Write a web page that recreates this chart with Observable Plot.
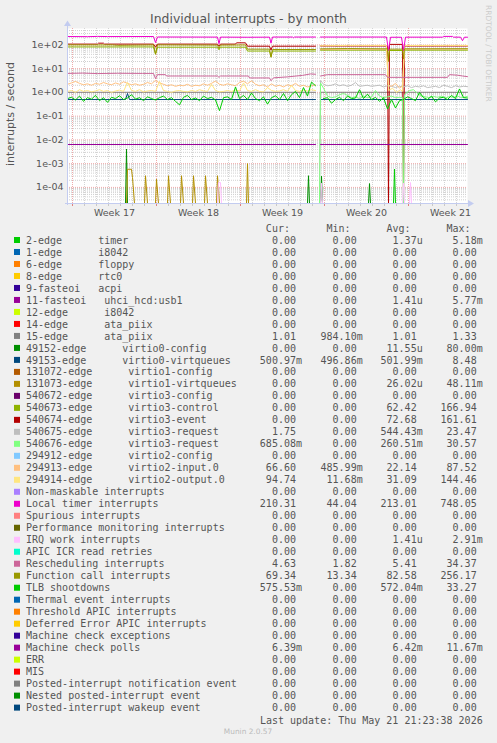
<!DOCTYPE html>
<html><head><meta charset="utf-8">
<script src="https://cdn.jsdelivr.net/npm/d3@7"></script>
<script src="https://cdn.jsdelivr.net/npm/@observablehq/plot@0.6"></script>
<style>
html,body{margin:0;padding:0;background:#F0F0F0;}
#root{position:relative;width:497px;height:743px;background:#F0F0F0;overflow:hidden;}
#root svg{position:absolute;left:0;top:0;}
</style></head>
<body><div id="root"></div>
<script>
// ---------- chart texts ----------
const TITLE = "Individual interrupts - by month";
const Y_LABEL = "interrupts / second";
const SIDE_TEXT = "RRDTOOL / TOBI OETIKER";
const LAST_UPDATE = "Last update: Thu May 21 21:23:38 2026";
const FOOTER = "Munin 2.0.57";

// ---------- axes ----------
const START = Date.UTC(2026, 3, 18, 14, 0);   // left edge of the graph
const HOUR = 3600e3;
const SPAN_H = 800;                             // hours shown
const Y_DOMAIN = [2.1e-5, 490];
const Y_TICKS = [1e-4, 1e-3, 1e-2, 1e-1, 1, 10, 100];
const Y_TICK_LABELS = ["1e-04", "1e-03", "1e-02", "1e-01", "1e+00", "1e+01", "1e+02"];
const WEEK_MIDS = ["2026-04-22T12:00Z", "2026-04-29T12:00Z", "2026-05-06T12:00Z", "2026-05-13T12:00Z", "2026-05-20T12:00Z"];
const WEEK_LABELS = ["Week 17", "Week 18", "Week 19", "Week 20", "Week 21"];

// ---------- legend ----------
const LABELS = [
  "2-edge      timer", "1-edge      i8042", "6-edge      floppy", "8-edge      rtc0", "9-fasteoi   acpi",
  "11-fasteoi   uhci_hcd:usb1", "12-edge      i8042", "14-edge      ata_piix", "15-edge      ata_piix",
  "49152-edge      virtio0-config", "49153-edge      virtio0-virtqueues", "131072-edge      virtio1-config",
  "131073-edge      virtio1-virtqueues", "540672-edge      virtio3-config", "540673-edge      virtio3-control",
  "540674-edge      virtio3-event", "540675-edge      virtio3-request", "540676-edge      virtio3-request",
  "294912-edge      virtio2-config", "294913-edge      virtio2-input.0", "294914-edge      virtio2-output.0",
  "Non-maskable interrupts", "Local timer interrupts", "Spurious interrupts", "Performance monitoring interrupts",
  "IRQ work interrupts", "APIC ICR read retries", "Rescheduling interrupts", "Function call interrupts",
  "TLB shootdowns", "Thermal event interrupts", "Threshold APIC interrupts", "Deferred Error APIC interrupts",
  "Machine check exceptions", "Machine check polls", "ERR", "MIS", "Posted-interrupt notification event",
  "Nested posted-interrupt event", "Posted-interrupt wakeup event"
];
const COLORS = [
  "#00CC00", "#0066B3", "#FF8000", "#FFCC00", "#330099", "#990099", "#CCFF00", "#FF0000", "#808080",
  "#008F00", "#00487D", "#B35A00", "#B38F00", "#6B006B", "#8FB300", "#B30000", "#BEBEBE", "#80FF80",
  "#80C9FF", "#FFC080", "#FFE680", "#AA80FF", "#EE00CC", "#FF8080", "#666600", "#FFBFFF", "#00FFCC",
  "#CC6699", "#999900", "#00CC00", "#0066B3", "#FF8000", "#FFCC00", "#330099", "#990099", "#CCFF00",
  "#FF0000", "#808080", "#008F00", "#00487D"
];
const CUR = ["0.00","0.00","0.00","0.00","0.00","0.00","0.00","0.00","1.01","0.00","500.97m","0.00","0.00","0.00","0.00","0.00","1.75","685.08m","0.00","66.60","94.74","0.00","210.31","0.00","0.00","0.00","0.00","4.63","69.34","575.53m","0.00","0.00","0.00","0.00","6.39m","0.00","0.00","0.00","0.00","0.00"];
const MIN = ["0.00","0.00","0.00","0.00","0.00","0.00","0.00","0.00","984.10m","0.00","496.86m","0.00","0.00","0.00","0.00","0.00","0.00","0.00","0.00","485.99m","11.68m","0.00","44.04","0.00","0.00","0.00","0.00","1.82","13.34","0.00","0.00","0.00","0.00","0.00","0.00","0.00","0.00","0.00","0.00","0.00"];
const AVG = ["1.37u","0.00","0.00","0.00","0.00","1.41u","0.00","0.00","1.01","11.55u","501.99m","0.00","26.02u","0.00","62.42","72.68","544.43m","260.51m","0.00","22.14","31.09","0.00","213.01","0.00","0.00","1.41u","0.00","5.41","82.58","572.04m","0.00","0.00","0.00","0.00","6.42m","0.00","0.00","0.00","0.00","0.00"];
const MAX = ["5.18m","0.00","0.00","0.00","0.00","5.77m","0.00","0.00","1.33","80.00m","8.48","0.00","48.11m","0.00","166.94","161.61","23.47","30.57","0.00","87.52","144.46","0.00","748.05","0.00","0.00","2.91m","0.00","34.37","256.17","33.27","0.00","0.00","0.00","0.00","11.67m","0.00","0.00","0.00","0.00","0.00"];

// ---------- series values: [hour since START, value]; null = no data ----------
const timerPts = [[652,0],[654,5.9e-4],[656,0]];
const ata15Pts = [[0,1.01],[496,1.01],[502,null],[506,1.01],[800,1.01]];
const virtio0ConfigPts = [[116,0],[118,4.1e-3],[120,0],[480,0],[482,3.1e-4],[484,0],[506,0],[508,3.0e-4],[510,0],[602,0],[604,1.45e-4],[606,0]];
const virtio0QueuesPts = [[0,0.5],[116,0.5],[120,0.9],[124,0.5],[496,0.5],[502,null],[506,0.5],[800,0.5]];
const virtio1QueuesPts = [[118,0],[120,5.8e-4],[128,5.8e-4],[130,2.6e-4],[134,0],[154,0],[156,3.1e-4],[160,0],[176,0],[178,2.2e-4],[182,0],[200,0],[202,3.1e-4],[206,0],[226,0],[228,3.1e-4],[232,0],[250,0],[252,3.1e-4],[256,0],[274,0],[276,3.1e-4],[280,0],[298,0],[300,3.1e-4],[304,0],[358,0],[360,1.0e-3],[362,0]];
const virtio3ControlPts = [[0,82],[172,82],[176,40],[180,80],[300,80],[303,62],[306,80],[356,80],[360,55],[404,55],[407,32],[410,55],[496,55],[502,null],[506,60],[640,60],[642,20],[644,58],[670,58],[672,22],[674,60],[800,60]];
const virtio3EventPts = [[0,108],[60,108],[62,118],[72,118],[74,108],[172,108],[176,80],[180,108],[300,108],[303,90],[306,108],[336,108],[338,122],[356,122],[360,88],[404,88],[407,60],[410,88],[496,88],[502,null],[506,90],[640,90],[642,0],[644,105],[670,105],[672,0],[674,90],[800,90]];
const virtio3Req675Pts = [[0,0],[496,0],[502,null],[504,0],[506,3.2],[512,2.2],[520,1.9],[528,2.0],[536,2.3],[544,1.9],[552,2.1],[560,1.8],[568,2.0],[576,2.6],[584,1.8],[592,1.9],[600,2.0],[608,1.8],[616,1.9],[624,2.0],[632,1.7],[640,1.9],[648,1.8],[656,1.6],[664,1.8],[672,1.7],[680,1.9],[688,1.6],[696,1.8],[704,1.7],[712,1.9],[720,1.6],[728,1.7],[736,1.8],[744,1.6],[752,2.0],[760,1.8],[768,1.6],[776,1.9],[784,1.7],[792,1.8],[800,1.75]];
const virtio3Req676Pts = [[0,0],[496,0],[502,null],[504,0],[506,2.5],[512,1.5],[520,0.7],[528,0.6],[536,0.65],[544,0.8],[552,0.9],[560,0.75],[568,0.6],[576,0.65],[584,0.55],[592,0.7],[600,0.6],[608,0.65],[616,1.2],[624,0.7],[632,0.6],[640,0.65],[648,0.7],[656,0.6],[664,0.62],[670,0.6],[672,0],[674,0.8],[684,1.2],[692,1.3],[700,0.9],[708,0.7],[716,0.65],[724,0.6],[732,0.68],[740,0.62],[748,0.7],[756,0.6],[764,0.66],[772,0.62],[780,0.7],[788,0.6],[796,0.65],[800,0.685]];
// virtio2 input / output: 8-hourly samples before the gap, then points after it
const virtio2InPre = [2.2,2.5,2.9,2.4,2.1,2.3,2.0,2.4,2.2,2.6, 2.3,2.1,2.5,2.2,2.8,2.4,2.1,2.3,2.0,2.2, 2.6,2.3,3.2,2.5,2.2,1.9,2.1,1.8,2.0,1.9, 2.2,1.8,2.0,1.9,2.3,2.0,2.4,3.0,2.2,2.0, 2.3,2.1,1.9,2.6,3.0,2.3,3.1,2.2,1.9,2.1, 1.7,2.3,1.8,2.0,1.7,2.1,1.9,2.4,1.8,2.0, 1.7,1.9,2.1];
const virtio2InPost = [[502,null],[506,64],[560,66],[600,65],[638,66],[642,2.0],[648,1.8],[656,2.4],[664,1.5],[670,1.9],[674,66],[720,67],[800,66.6]];
const virtio2OutPre = [1.1,1.2,1.0,1.3,1.1,1.2,1.05,1.15,1.3,1.1, 1.2,1.0,1.15,1.25,1.1,2.6,1.2,1.1,1.3,1.05, 1.15,1.2,1.1,2.9,1.2,1.1,1.0,1.15,1.2,1.1, 1.05,1.2,1.1,1.3,1.15,1.1,2.2,1.2,1.05,1.1, 1.2,1.1,1.25,1.15,2.5,1.2,1.1,1.3,1.1,1.05, 1.6,1.2,1.1,1.15,1.3,1.1,2.0,1.2,1.1,1.25, 1.15,1.3,1.2];
const virtio2OutPost = [[502,null],[506,92],[560,95],[638,95],[642,1.2],[650,1.5],[658,1.0],[666,1.3],[670,1.1],[674,94],[760,95],[800,94.7]];
const localTimerPts = [[0,225],[40,222],[60,228],[80,224],[172,225],[176,125],[180,215],[300,213],[303,112],[306,213],[360,210],[404,212],[407,118],[410,214],[450,214],[452,200],[454,214],[496,214],[502,null],[506,214],[638,214],[642,57],[646,210],[668,210],[672,57],[676,212],[750,212],[752,228],[770,228],[772,212],[786,212],[790,150],[794,212],[800,210]];
const irqWorkPts = [[300,0],[302,1.6e-4],[306,1.6e-4],[308,0],[506,0],[508,1.5e-4],[510,0],[670,0],[672,1.5e-4],[674,0],[684,0],[686,1.6e-4],[688,0]];
const reschedPts = [[0,6.3],[30,6.5],[60,6.2],[100,6.4],[150,6.3],[172,6.3],[176,3.8],[180,5.6],[196,5.6],[198,4.9],[300,4.9],[303,4.3],[306,4.9],[362,4.9],[364,4.05],[404,4.05],[407,3.1],[412,4.1],[440,4.5],[470,5.2],[486,6.0],[496,5.8],[502,null],[506,4.9],[520,5.6],[636,5.6],[640,4.3],[760,4.3],[764,5.6],[780,5.3],[790,4.9],[800,4.6]];
const funcCallPts = [[0,100],[90,100],[100,96],[172,100],[176,42],[180,100],[300,98],[303,72],[306,98],[356,100],[360,66],[404,66],[407,30],[410,64],[496,64],[502,null],[506,68],[560,70],[640,68],[642,22],[644,66],[670,66],[672,26],[674,68],[800,69]];
// TLB shootdowns: 8-hourly samples over the whole graph
const tlbSamples = [0.55,0.62,0.48,0.7,0.42,0.6,0.52,0.75,0.45,0.6, 0.38,0.62,0.55,0.72,0.5,0.58,0.8,0.52,0.6,0.45, 0.65,0.55,0.48,0.6,0.7,0.5,0.6,0.42,0.3,0.62, 0.75,0.5,0.58,0.45,0.7,0.55,0.62,0.48,0.17,0.6, 0.65,0.5,1.7,0.55,0.75,0.5,0.95,0.55,0.45,0.65, 0.32,0.6,0.72,0.5,0.9,0.45,0.8,1.1,0.6,1.6, 0.7,2.7,1.9,null,0.55,0.6,0.35,0.5,0.62,0.45, 0.7,0.55,0.58,1.3,0.55,0.85,0.5,0.62,0.42,0.6, 0.2,0.5,0.22,0.45,0.5,0.65,0.55,0.45,1.0,0.6, 0.5,0.7,0.4,0.58,0.62,0.5,0.75,0.55,1.4,0.6, 0.58];
const mcPollsPts = [[0,0.0064],[496,0.0064],[502,null],[506,0.0064],[800,0.0064]];
const SAMPLE_STEP_H = 8;

// ---------- build ----------
const sampled = arr => arr.map((v, i) => [i * SAMPLE_STEP_H, v]);
const DATA = {
  0: timerPts, 8: ata15Pts, 9: virtio0ConfigPts, 10: virtio0QueuesPts, 12: virtio1QueuesPts,
  14: virtio3ControlPts, 15: virtio3EventPts, 16: virtio3Req675Pts, 17: virtio3Req676Pts,
  19: sampled(virtio2InPre).concat(virtio2InPost), 20: sampled(virtio2OutPre).concat(virtio2OutPost),
  22: localTimerPts, 25: irqWorkPts, 27: reschedPts, 28: funcCallPts, 29: sampled(tlbSamples), 34: mcPollsPts
};
const yFloor = Y_DOMAIN[0];
const rowsOf = pts => pts.map(([h, v]) => ({t: new Date(START + h * HOUR), v: v == null ? NaN : (v <= 0 ? yFloor : v)}));

const x0 = new Date(START), x1 = new Date(START + SPAN_H * HOUR);
const dayLines = d3.utcDay.range(x0, x1);
const weekLines = d3.utcSunday.range(x0, x1);
const minorY = [];
for (let e = -5; e <= 2; e++) for (let k = 2; k <= 9; k++) {
  const v = k * Math.pow(10, e);
  if (v > Y_DOMAIN[0] && v < Y_DOMAIN[1]) minorY.push(v);
}
const AXIS_COLOR = "#C3CCF0";
const TEXT_COLOR = "#555555";

function axisDecor(index, scales, values, dims) {
  const {width, height, marginLeft, marginRight, marginTop, marginBottom} = dims;
  const xL = marginLeft, xR = width - marginRight, yB = height - marginBottom, yT = marginTop;
  const g = d3.create("svg:g");
  for (const d of dayLines) {
    const px = Math.round(scales.x(d)) + 0.5;
    g.append("line").attr("x1", px).attr("x2", px).attr("y1", yB + 1).attr("y2", yB + 3).attr("stroke", "#C8C8C8");
  }
  for (const d of weekLines) {
    const px = Math.round(scales.x(d)) + 0.5;
    g.append("line").attr("x1", px).attr("x2", px).attr("y1", yB + 1).attr("y2", yB + 3).attr("stroke", "#E08080");
  }
  g.append("line").attr("x1", xL - 2).attr("x2", xR + 3).attr("y1", yB + 0.5).attr("y2", yB + 0.5).attr("stroke", AXIS_COLOR);
  g.append("line").attr("x1", xL + 0.5).attr("x2", xL + 0.5).attr("y1", yB + 2).attr("y2", yT - 3).attr("stroke", AXIS_COLOR);
  g.append("path").attr("fill", AXIS_COLOR).attr("d", `M${xR + 1},${yB - 3}L${xR + 7},${yB + 0.5}L${xR + 1},${yB + 4}Z`);
  g.append("path").attr("fill", AXIS_COLOR).attr("d", `M${xL - 3},${yT - 2}L${xL + 0.5},${yT - 7.5}L${xL + 4},${yT - 2}Z`);
  return g.node();
}

const marks = [
  Plot.frame({fill: "#FFFFFF", stroke: null}),
  Plot.ruleY(minorY, {stroke: "#D0D0D0", strokeDasharray: "1,1"}),
  Plot.ruleX(dayLines, {stroke: "#D4D4D4", strokeDasharray: "1,1"}),
  Plot.ruleY(Y_TICKS, {stroke: "#EFAAAA", strokeDasharray: "1,1"}),
  Plot.ruleX(weekLines, {stroke: "#EFAAAA", strokeDasharray: "1,1"})
];
LABELS.forEach((lab, k) => {
  if (DATA[k]) marks.push(Plot.line(rowsOf(DATA[k]), {x: "t", y: "v", stroke: COLORS[k], strokeWidth: 1}));
});
marks.push(axisDecor);
marks.push(Plot.axisX({ticks: WEEK_MIDS.map(s => new Date(s)), tickFormat: d => WEEK_LABELS[WEEK_MIDS.findIndex(s => +new Date(s) === +d)], tickSize: 0, tickPadding: 6, fontSize: 9.5, label: null}));
marks.push(Plot.axisY({ticks: Y_TICKS, tickFormat: d => Y_TICK_LABELS[Y_TICKS.indexOf(d)], tickSize: 0, tickPadding: 4, fontSize: 9.5, label: null}));

const chart = Plot.plot({
  width: 497, height: 225,
  marginLeft: 67, marginRight: 30, marginTop: 28, marginBottom: 22,
  x: {type: "utc", domain: [x0, x1], label: null},
  y: {type: "log", domain: Y_DOMAIN, clamp: true, label: null},
  style: {background: "transparent", color: TEXT_COLOR, fontFamily: "DejaVu Sans", fontSize: "9.5px", overflow: "visible"},
  marks
});
const root = document.getElementById("root");
root.appendChild(chart);

// ---------- texts & legend (overlay svg) ----------
const ov = d3.select(root).append("svg").attr("width", 497).attr("height", 743)
  .style("pointer-events", "none").attr("font-family", "DejaVu Sans").attr("fill", TEXT_COLOR);
ov.append("text").attr("x", 248.5).attr("y", 23.3).attr("text-anchor", "middle").attr("font-size", 12.4).text(TITLE);
ov.append("text").attr("transform", "translate(13.5,114) rotate(-90)").attr("text-anchor", "middle").attr("font-size", 11).text(Y_LABEL);
ov.append("text").attr("transform", "translate(485.5,5) rotate(90)").attr("font-size", 7.5).attr("fill", "#CCCCCC").text(SIDE_TEXT);

const mono = ov.append("g").attr("font-family", "DejaVu Sans Mono").attr("font-size", 10).style("white-space", "pre");
const CW = 6.02;
const COL_END = [302, 362.7, 422.7, 482.7];
["Cur:", "Min:", "Avg:", "Max:"].forEach((h, j) => {
  mono.append("text").attr("x", COL_END[j] - 2 * CW).attr("y", 231.6).attr("text-anchor", "end").text(h);
});
LABELS.forEach((lab, k) => {
  const cy = 240 + 11.99 * k;
  mono.append("rect").attr("x", 14).attr("y", cy - 3).attr("width", 6).attr("height", 6).attr("fill", COLORS[k]);
  mono.append("text").attr("x", 26).attr("y", cy + 3.6).attr("xml:space", "preserve").text(lab);
  [CUR[k], MIN[k], AVG[k], MAX[k]].forEach((s, j) => {
    const hasUnit = /[a-z]$/i.test(s);
    mono.append("text").attr("x", COL_END[j] - (hasUnit ? 0 : CW)).attr("y", cy + 3.6).attr("text-anchor", "end").text(s);
  });
});
mono.append("text").attr("x", 482.7).attr("y", 723.6).attr("text-anchor", "end").text(LAST_UPDATE);
ov.append("text").attr("x", 248).attr("y", 734.2).attr("text-anchor", "middle").attr("font-size", 7.4).attr("fill", "#BBBBBB").text(FOOTER);
</script>
</body></html>
